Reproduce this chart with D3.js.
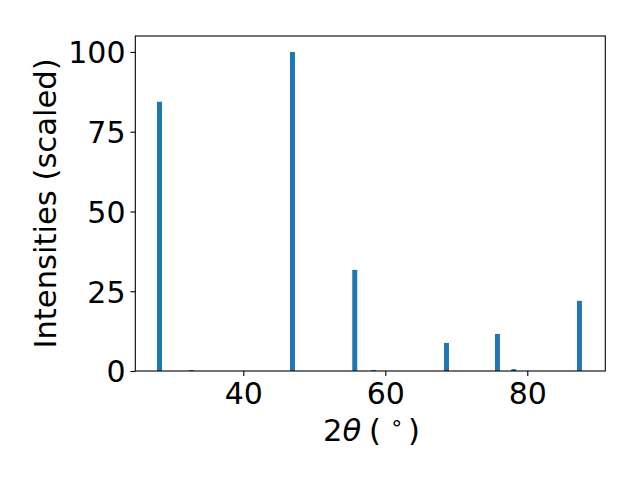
<!DOCTYPE html>
<html>
<head>
<meta charset="utf-8">
<script src="https://cdn.jsdelivr.net/npm/d3@7"></script>
<style>
  html, body { margin: 0; padding: 0; background: #fff; }
  svg { display: block; }
  text { font-family: "DejaVu Sans", sans-serif; fill: #000; }
</style>
</head>
<body>
<svg id="chart" width="640" height="480"></svg>
<script>
// Data
const twoTheta    = [28.2, 32.7, 46.93, 55.7, 58.38, 68.62, 75.8, 78.1, 87.35];
const intensities = [84.4, 0.3, 100, 31.7, 0.3, 8.8, 11.6, 0.6, 22.0];
const xTicks = [40, 60, 80];
const yTicks = [0, 25, 50, 75, 100];
const barWidth = 0.7;

(function () {
const svg = d3.select("#chart");
const mLeft = 135.3, mRight = 605.3, mTop = 36, mBottom = 371;

const x = d3.scaleLinear().domain([24.79, 90.99]).range([mLeft, mRight]);
const y = d3.scaleLinear().domain([0, 105]).range([mBottom, mTop]);

const tickFont = 30;
const labelFont = 30.6;

// Bars
svg.append("g").selectAll("rect")
  .data(twoTheta.map((t, i) => ({t, v: intensities[i]})))
  .join("rect")
  .attr("x", d => x(d.t - barWidth / 2))
  .attr("width", d => x(d.t + barWidth / 2) - x(d.t - barWidth / 2))
  .attr("y", d => y(d.v))
  .attr("height", d => y(0) - y(d.v))
  .attr("fill", "#1f77b4");

// Axes
const xAxis = d3.axisBottom(x).tickValues(xTicks).tickSize(4.9).tickPadding(4.9).tickFormat(d3.format("d"));
const yAxis = d3.axisLeft(y).tickValues(yTicks).tickSize(4.9).tickPadding(4.9).tickFormat(d3.format("d"));

const gx = svg.append("g").attr("transform", `translate(0,${mBottom})`).call(xAxis);
const gy = svg.append("g").attr("transform", `translate(${mLeft},0)`).call(yAxis);
[gx, gy].forEach(g => {
  g.select(".domain").remove();
  g.selectAll(".tick line").attr("stroke", "#000").attr("stroke-width", 1.1);
  g.selectAll(".tick text")
    .attr("font-family", "DejaVu Sans, sans-serif")
    .attr("font-size", tickFont)
    .attr("fill", "#000");
});
gx.selectAll(".tick text").attr("dy", null).attr("y", 33);
gy.selectAll(".tick text").attr("dy", "0.36em");

// Frame (spines)
svg.append("rect")
  .attr("x", mLeft).attr("y", mTop)
  .attr("width", mRight - mLeft).attr("height", mBottom - mTop)
  .attr("fill", "none").attr("stroke", "#000").attr("stroke-width", 1.1);

// Y label
svg.append("text")
  .attr("transform", `translate(56,${(mTop + mBottom) / 2}) rotate(-90)`)
  .attr("text-anchor", "middle")
  .attr("font-size", labelFont)
  .text("Intensities (scaled)");

// X label: 2θ ( ° )
const xl = svg.append("text")
  .attr("y", 441)
  .attr("font-size", labelFont);
xl.append("tspan").attr("x", 323).text("2");
xl.append("tspan").attr("font-style", "italic").text("θ");
xl.append("tspan").attr("x", 369).text("(");
xl.append("tspan").attr("x", 390).attr("font-size", labelFont * 0.7).attr("dy", -11).text("∘");
xl.append("tspan").attr("x", 408).attr("dy", 11).text(")");
})();
</script>
</body>
</html>
